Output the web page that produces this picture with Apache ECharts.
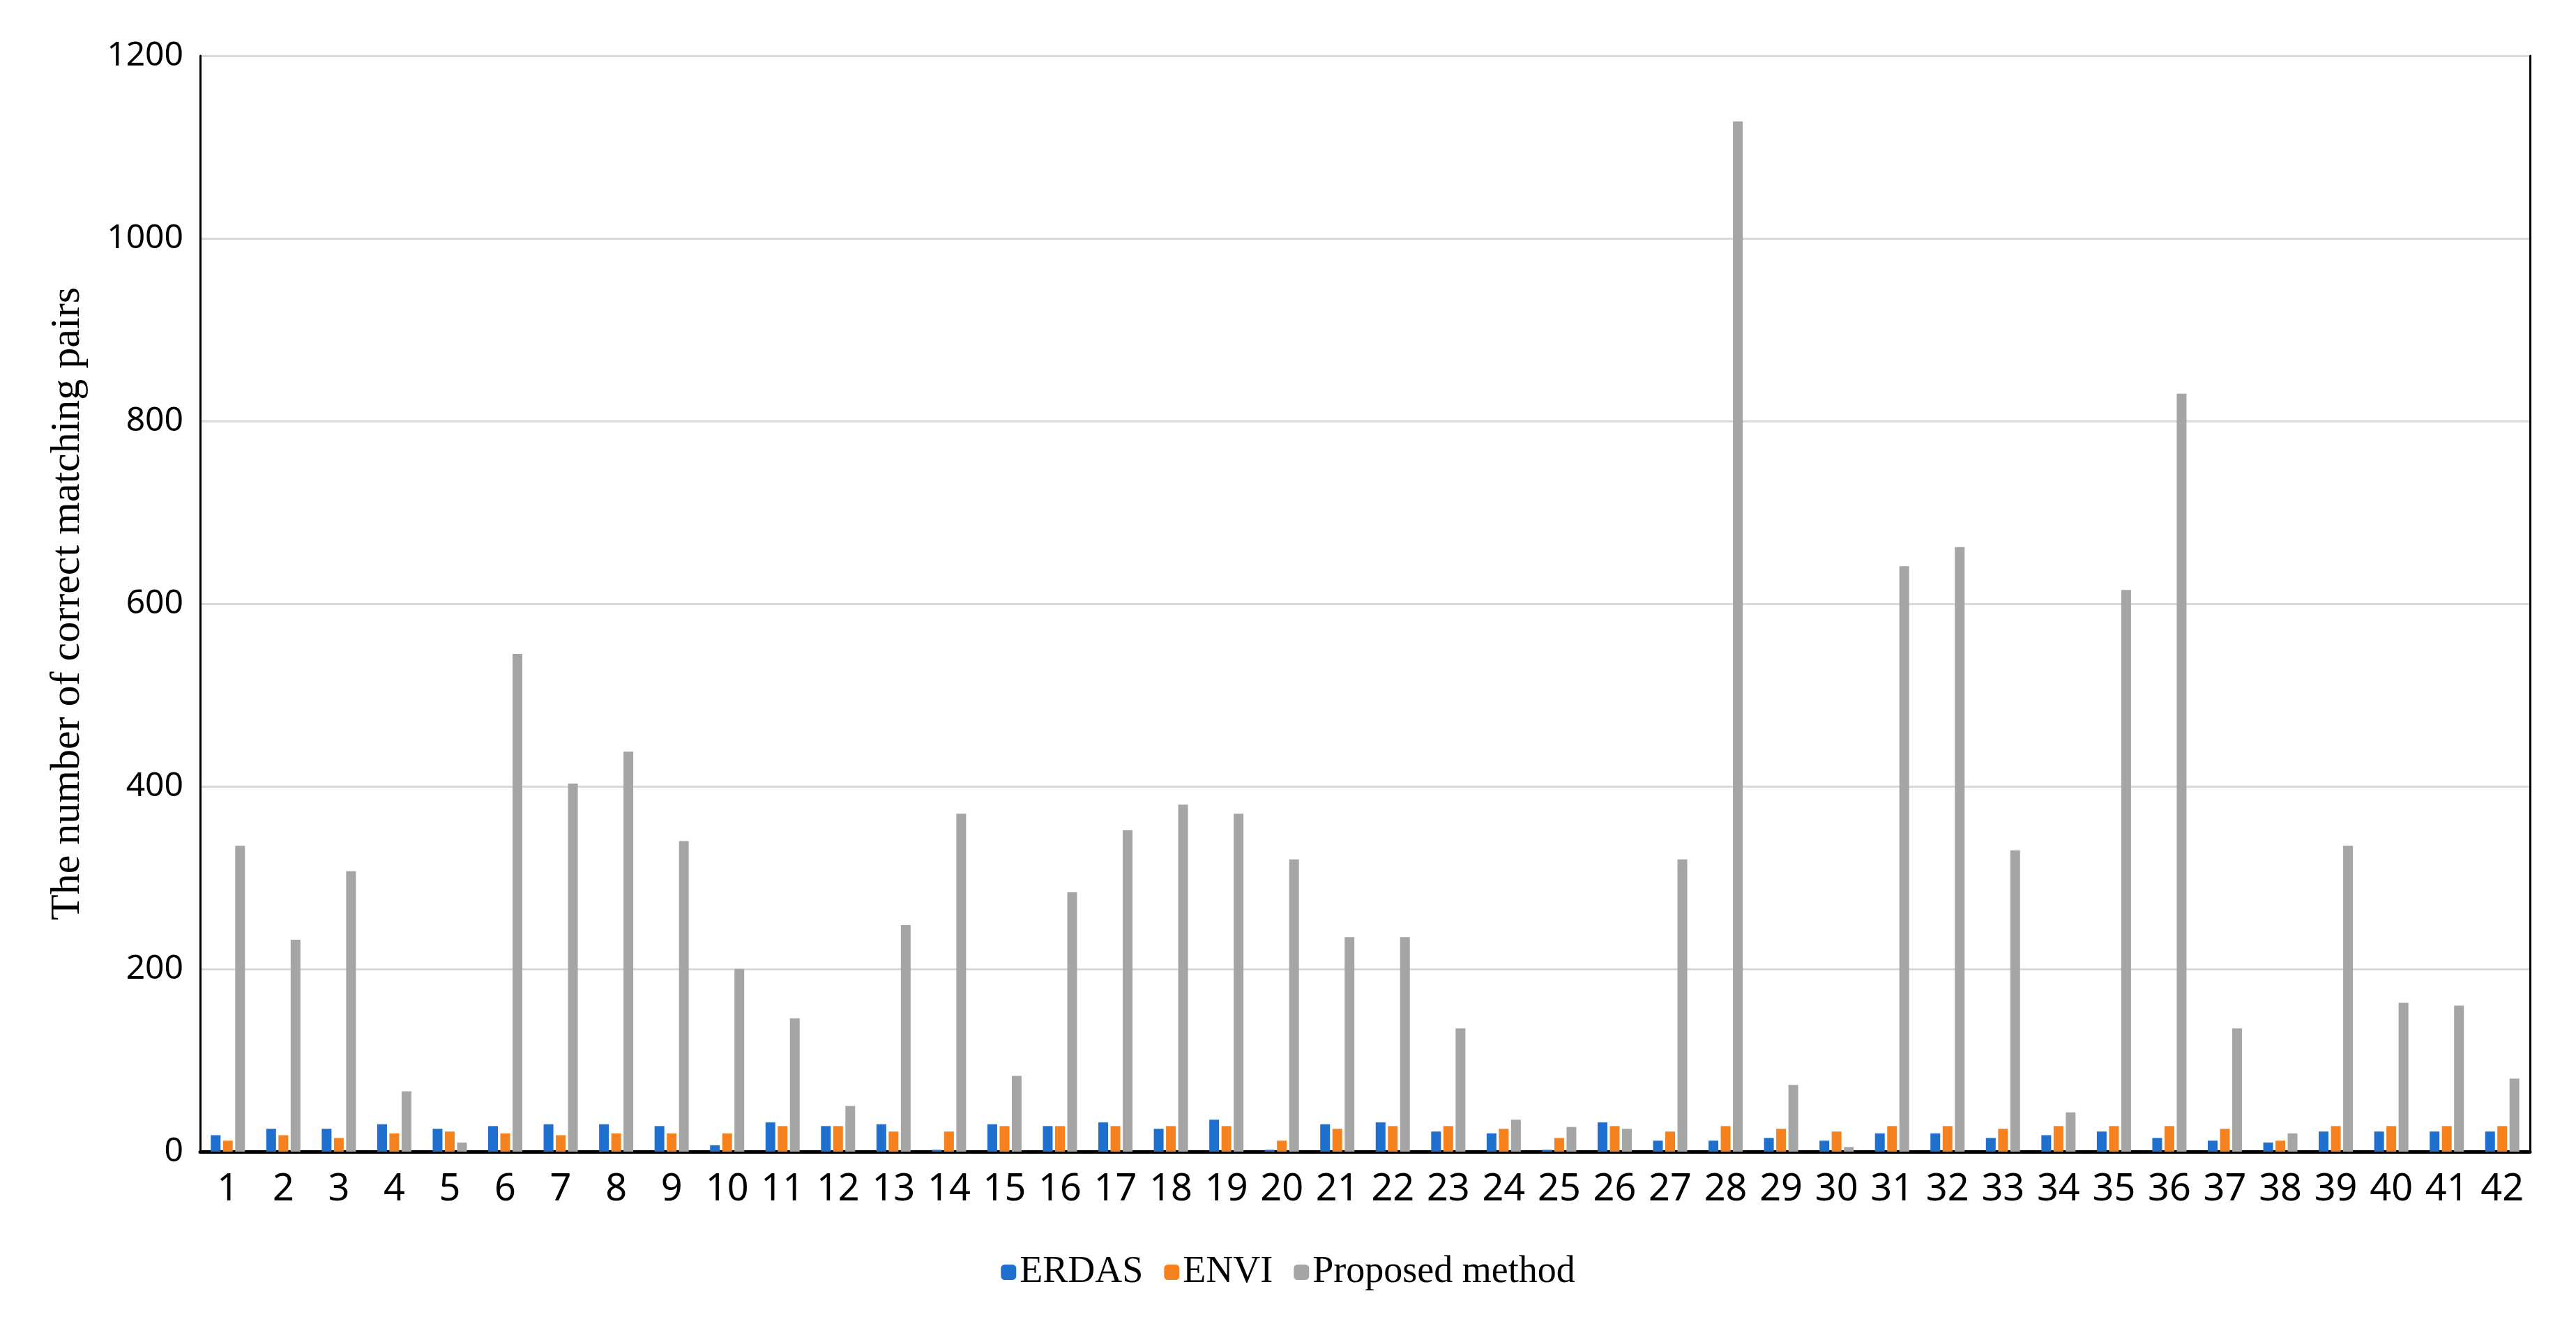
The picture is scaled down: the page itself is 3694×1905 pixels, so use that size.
<!DOCTYPE html>
<html>
<head>
<meta charset="utf-8">
<script src="https://cdn.jsdelivr.net/npm/echarts@6/dist/echarts.min.js"></script>
<style>html,body{margin:0;padding:0;background:#fff}#chart{width:3694px;height:1905px}</style>
</head>
<body>
<div id="chart"></div>
<script>
var categories = [];
for (var i = 1; i <= 42; i++) categories.push(String(i));

var erdas = [18, 25, 25, 30, 25, 28, 30, 30, 28, 7, 32, 28, 30, 2, 30, 28, 32, 25, 35, 2, 30,
  32, 22, 20, 2, 32, 12, 12, 15, 12, 20, 20, 15, 18, 22, 15, 12, 10, 22, 22, 22, 22];
var envi = [12, 18, 15, 20, 22, 20, 18, 20, 20, 20, 28, 28, 22, 22, 28, 28, 28, 28, 28, 12, 25,
  28, 28, 25, 15, 28, 22, 28, 25, 22, 28, 28, 25, 28, 28, 28, 25, 12, 28, 28, 28, 28];
var proposed = [335, 232, 307, 66, 10, 545, 403, 438, 340, 200, 146, 50, 248, 370, 83, 284, 352,
  380, 370, 320, 235, 235, 135, 35, 27, 25, 320, 1128, 73, 5, 641, 662, 330, 43, 615, 830, 135,
  20, 335, 163, 160, 80];

var chart = echarts.init(document.getElementById("chart"));

function bar(name, data, color) {
  return {
    name: name,
    type: "bar",
    data: data,
    barWidth: 14,
    barGap: "25%",
    itemStyle: { color: color },
  };
}

var option = {
  animation: false,
  grid: { left: 287, right: 66, top: 80, bottom: 253 },
  legend: {
    bottom: 48,
    itemWidth: 22,
    itemHeight: 22,
    itemGap: 30,
    textStyle: { fontFamily: "Liberation Serif", fontSize: 54, color: "#000" },
    data: ["ERDAS", "ENVI", "Proposed method"],
  },
  xAxis: {
    type: "category",
    data: categories,
    axisLine: { lineStyle: { color: "#000", width: 5 } },
    axisTick: { show: false },
    axisLabel: { fontFamily: "Noto Sans", fontSize: 54, color: "#000", margin: 28, interval: 0 },
  },
  yAxis: [
    {
      type: "value",
      min: 0,
      max: 1200,
      interval: 200,
      name: "The number of correct matching pairs",
      nameLocation: "middle",
      nameGap: 160,
      nameTextStyle: { fontFamily: "Liberation Serif", fontSize: 60, color: "#000" },
      axisLine: { show: true, lineStyle: { color: "#000", width: 3 } },
      axisTick: { show: false },
      splitLine: { lineStyle: { color: "#d9d9d9", width: 3 } },
      axisLabel: {
        fontFamily: "Noto Sans", fontSize: 48, color: "#000", margin: 24,
        formatter: function (v) { return String(v); },
      },
    },
    {
      type: "value",
      min: 0,
      max: 1200,
      position: "right",
      axisLine: { show: true, lineStyle: { color: "#000", width: 3 } },
      axisTick: { show: false },
      axisLabel: { show: false },
      splitLine: { show: false },
    },
  ],
  series: [
    bar("ERDAS", erdas, "#1f6fcf"),
    bar("ENVI", envi, "#f5821f"),
    bar("Proposed method", proposed, "#a5a5a5"),
  ],
};

chart.setOption(option);
</script>
</body>
</html>
